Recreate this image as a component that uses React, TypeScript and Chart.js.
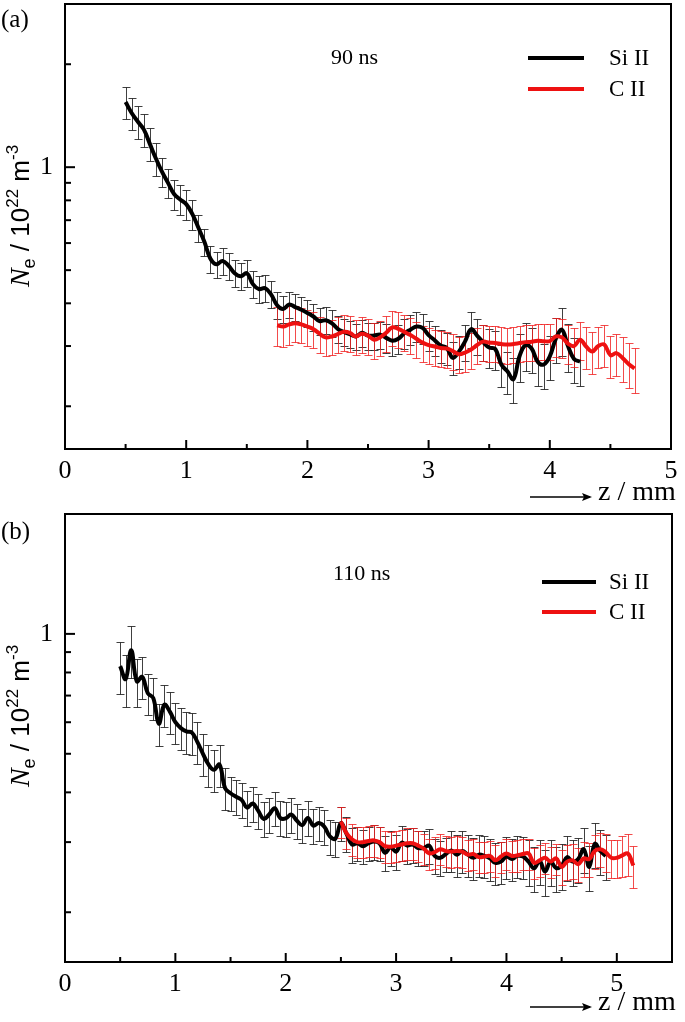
import React, { useEffect, useRef } from "react";
import { Chart, registerables } from "chart.js";
Chart.register(...registerables);

// ---------- data ----------
const STEP = 0.05; // mm between samples

// Panel (a), 90 ns
const SI_A_START = 0.5;
const SI_A = [
  1.55, 1.44, 1.36, 1.29, 1.17, 1.06, 0.97, 0.90, 0.835, 0.805,
  0.78, 0.73, 0.666, 0.605, 0.54, 0.52, 0.532, 0.515, 0.49, 0.48,
  0.49, 0.455, 0.44, 0.443, 0.425, 0.395, 0.385, 0.397, 0.39, 0.383,
  0.375, 0.366, 0.355, 0.357, 0.35, 0.337, 0.33, 0.325, 0.32, 0.328,
  0.322, 0.322, 0.324, 0.317, 0.311, 0.315, 0.327, 0.335, 0.342, 0.339,
  0.323, 0.312, 0.301, 0.296, 0.277, 0.289, 0.309, 0.336, 0.322, 0.308,
  0.297, 0.294, 0.265, 0.253, 0.24, 0.28, 0.302, 0.295, 0.27, 0.265,
  0.28, 0.315, 0.335, 0.3, 0.275, 0.27,
];
const SI_A_ERR = [
  11, 11, 11, 11, 11, 11, 10, 10, 10, 10,
  10, 10, 9, 9, 9, 9, 9, 9, 9, 9,
  9, 9, 9, 9, 9, 9, 9, 9, 9, 9,
  9, 9, 9, 9, 9, 9, 9, 9, 9, 9,
  9, 9, 9, 10, 10, 10, 10, 10, 10, 10,
  10, 10, 11, 11, 11, 11, 12, 12, 12, 12,
  13, 13, 14, 14, 15, 16, 16, 15, 15, 15,
  15, 15, 16, 16, 15, 15,
];
const CI_A_START = 1.75;
const CI_A = [
  0.345, 0.342, 0.347, 0.35, 0.347,
  0.342, 0.336, 0.326, 0.318, 0.32, 0.325, 0.33, 0.328, 0.32, 0.326,
  0.322, 0.313, 0.318, 0.328, 0.34, 0.337, 0.33, 0.323, 0.315, 0.307,
  0.302, 0.299, 0.296, 0.295, 0.29, 0.284, 0.287, 0.293, 0.302, 0.309,
  0.307, 0.306, 0.304, 0.303, 0.304, 0.306, 0.308, 0.309, 0.311, 0.31,
  0.31, 0.32, 0.318, 0.305, 0.3, 0.313, 0.299, 0.289, 0.3, 0.303,
  0.282, 0.286, 0.277, 0.266, 0.258,
];
const CI_A_ERR = [
  13, 13, 13, 12, 12,
  12, 12, 12, 12, 12, 12, 12, 12, 12, 12,
  12, 12, 12, 12, 12, 12, 12, 12, 12, 12,
  12, 12, 12, 12, 12, 12, 12, 12, 12, 12,
  12, 12, 12, 12, 12, 12, 12, 12, 12, 12,
  12, 13, 13, 13, 13, 13, 14, 14, 14, 14,
  14, 14, 15, 15, 15,
];

// Panel (b), 110 ns
const SI_B_START = 0.5;
const SI_B = [
  0.83, 0.77, 0.91, 0.76, 0.78, 0.71, 0.69, 0.595, 0.664, 0.638,
  0.60, 0.58, 0.569, 0.565, 0.535, 0.50, 0.47, 0.456, 0.47, 0.41,
  0.398, 0.39, 0.383, 0.366, 0.375, 0.36, 0.343, 0.352, 0.365, 0.345,
  0.344, 0.352, 0.34, 0.331, 0.345, 0.33, 0.335, 0.328, 0.31, 0.306,
  0.335, 0.315, 0.296, 0.298, 0.293, 0.298, 0.301, 0.298, 0.282, 0.291,
  0.284, 0.299, 0.294, 0.296, 0.29, 0.29, 0.294, 0.277, 0.274, 0.28,
  0.286, 0.279, 0.285, 0.279, 0.274, 0.279, 0.277, 0.273, 0.266, 0.268,
  0.276, 0.272, 0.277, 0.276, 0.268, 0.258, 0.269, 0.253, 0.268, 0.258,
  0.262, 0.275, 0.268, 0.272, 0.288, 0.26, 0.297, 0.285, 0.277,
];
const SI_B_ERR = [
  15, 15, 15, 14, 12, 12, 12, 12, 12, 12,
  12, 12, 12, 12, 12, 12, 12, 12, 12, 12,
  10, 10, 10, 10, 10, 10, 10, 10, 10, 10,
  10, 10, 10, 10, 10, 10, 10, 10, 10, 10,
  10, 10, 10, 10, 10, 10, 10, 10, 10, 10,
  10, 10, 10, 10, 10, 10, 10, 10, 10, 10,
  12, 12, 12, 12, 12, 12, 12, 12, 12, 12,
  12, 12, 12, 12, 13, 13, 13, 13, 13, 13,
  13, 13, 13, 13, 13, 13, 13, 13, 13,
];
const CI_B_START = 2.5;
const CI_B = [
  0.338, 0.316, 0.305, 0.3, 0.3, 0.302, 0.303, 0.3, 0.293, 0.292,
  0.294, 0.296, 0.298, 0.298, 0.294, 0.289, 0.281, 0.283, 0.288, 0.285,
  0.284, 0.285, 0.284, 0.279, 0.28, 0.275, 0.276, 0.277, 0.27, 0.276,
  0.281, 0.277, 0.278, 0.28, 0.281, 0.266, 0.27, 0.274, 0.268, 0.273,
  0.26, 0.268, 0.27, 0.264, 0.273, 0.272, 0.285, 0.288, 0.283, 0.274,
  0.274, 0.278, 0.281, 0.262,
];
const CI_B_ERR = [
  9, 9, 9, 9, 9, 9, 9, 9, 9, 9,
  9, 9, 9, 9, 9, 9, 9, 9, 9, 9,
  9, 9, 9, 9, 9, 9, 9, 9, 9, 9,
  9, 9, 9, 9, 9, 9, 9, 9, 9, 9,
  10, 10, 10, 10, 10, 10, 10, 10, 11, 11,
  11, 12, 12, 12,
];

const X_TICKS = [0, 0.5, 1, 1.5, 2, 2.5, 3, 3.5, 4, 4.5, 5, 5.5];
const Y_TICKS = [0.2, 0.3, 0.4, 0.5, 0.6, 0.7, 0.8, 0.9, 1, 2, 3];
const Y_MIN = 0.15;
const SERIES_NAMES = ["Si II", "C II"];
const PANEL_TAGS = ["(a)", "(b)"];
const PANEL_TIMES = ["90 ns", "110 ns"];
const X_MAX = [5, 5.5];
const Y_MAX = [3, 2];

// ---------- layout / style ----------
const W = 685;
const H = 511;
const SERIF = '"Liberation Serif", "Times New Roman", serif';
const SANS = '"Liberation Sans", Arial, sans-serif';
const BLACK = "#000000";
const RED = "#ee1111";

type Layout = {
  top: number; bottom: number; right: number;
  legX1: number; legX2: number; legY1: number; legY2: number; legTextX: number;
  timeX: number; timeY: number; titleCY: number; tagY: number; axisY: number;
};
const LAYOUTS: Layout[] = [
  { top: 4, bottom: 449, right: 671, legX1: 528, legX2: 584, legY1: 58, legY2: 89, legTextX: 609,
    timeX: 331, timeY: 58, titleCY: 216, tagY: 20, axisY: 497 },
  { top: 3, bottom: 451, right: 672, legX1: 542, legX2: 596, legY1: 71, legY2: 101, legTextX: 609,
    timeX: 333, timeY: 63, titleCY: 205, tagY: 21, axisY: 496 },
];

function points(start: number, vals: number[]) {
  return vals.map((v, i) => ({ x: +(start + i * STEP).toFixed(3), y: v }));
}

function drawYTitle(ctx: CanvasRenderingContext2D, x: number, cy: number) {
  const parts = [
    { t: "N", font: `italic 28px ${SERIF}`, dy: 0 },
    { t: "e", font: `18px ${SANS}`, dy: 6 },
    { t: " / 10", font: `26px ${SANS}`, dy: 0 },
    { t: "22", font: `17px ${SANS}`, dy: -11 },
    { t: " m", font: `26px ${SANS}`, dy: 0 },
    { t: "-3", font: `17px ${SANS}`, dy: -11 },
  ];
  let total = 0;
  const widths = parts.map((p) => {
    ctx.font = p.font;
    const w = ctx.measureText(p.t).width;
    total += w;
    return w;
  });
  ctx.save();
  ctx.translate(x, cy);
  ctx.rotate(-Math.PI / 2);
  ctx.fillStyle = "#000";
  ctx.textBaseline = "alphabetic";
  ctx.textAlign = "left";
  let cx = -total / 2;
  parts.forEach((p, i) => {
    ctx.font = p.font;
    ctx.fillText(p.t, cx, p.dy);
    cx += widths[i];
  });
  ctx.restore();
}

function makePlugin(panel: number, errs: number[][]) {
  const L = LAYOUTS[panel];
  return {
    id: "physicsDecor" + panel,
    beforeDatasetsDraw(chart: any) {
      const { ctx, chartArea } = chart;
      const xs = chart.scales.x;
      const ys = chart.scales.y;
      ctx.save();
      ctx.beginPath();
      ctx.rect(chartArea.left, chartArea.top, chartArea.right - chartArea.left, chartArea.bottom - chartArea.top);
      ctx.clip();
      [1, 0].forEach((di) => {
        const ds = chart.data.datasets[di];
        ctx.strokeStyle = di === 1 ? "rgba(30,30,30,0.85)" : "rgba(240,30,30,0.8)";
        ctx.lineWidth = 1;
        ds.data.forEach((p: any, i: number) => {
          const e = errs[di][i] / 100;
          const px = Math.round(xs.getPixelForValue(p.x)) + 0.5;
          const yt = Math.round(ys.getPixelForValue(p.y * (1 + e))) + 0.5;
          const yb = Math.round(ys.getPixelForValue(p.y * (1 - e))) + 0.5;
          ctx.beginPath();
          ctx.moveTo(px, yt);
          ctx.lineTo(px, yb);
          ctx.moveTo(px - 4, yt);
          ctx.lineTo(px + 4, yt);
          ctx.moveTo(px - 4, yb);
          ctx.lineTo(px + 4, yb);
          ctx.stroke();
        });
      });
      ctx.restore();
    },
    afterDraw(chart: any) {
      const { ctx, chartArea } = chart;
      const xs = chart.scales.x;
      const ys = chart.scales.y;
      ctx.save();
      ctx.strokeStyle = "#000";
      ctx.lineWidth = 2;
      ctx.strokeRect(chartArea.left, chartArea.top, chartArea.right - chartArea.left, chartArea.bottom - chartArea.top);
      xs.ticks.forEach((t: any) => {
        const px = xs.getPixelForValue(t.value);
        if (px <= chartArea.left + 1 || px >= chartArea.right - 1) return;
        const len = Number.isInteger(t.value) ? 9 : 5;
        ctx.beginPath();
        ctx.moveTo(px, chartArea.bottom);
        ctx.lineTo(px, chartArea.bottom - len);
        ctx.stroke();
      });
      ys.ticks.forEach((t: any) => {
        const py = ys.getPixelForValue(t.value);
        if (py <= chartArea.top + 1 || py >= chartArea.bottom - 1) return;
        const len = t.value === 1 ? 10 : 6;
        ctx.beginPath();
        ctx.moveTo(chartArea.left, py);
        ctx.lineTo(chartArea.left + len, py);
        ctx.stroke();
      });
      const legend = [
        { y: L.legY1, color: BLACK, text: SERIES_NAMES[0] },
        { y: L.legY2, color: RED, text: SERIES_NAMES[1] },
      ];
      legend.forEach((l) => {
        ctx.strokeStyle = l.color;
        ctx.lineWidth = 4;
        ctx.beginPath();
        ctx.moveTo(L.legX1, l.y);
        ctx.lineTo(L.legX2, l.y);
        ctx.stroke();
        ctx.fillStyle = "#000";
        ctx.font = `23px ${SERIF}`;
        ctx.textBaseline = "middle";
        ctx.textAlign = "left";
        ctx.fillText(l.text, L.legTextX, l.y + 1);
      });
      ctx.font = `22px ${SERIF}`;
      ctx.fillStyle = "#000";
      ctx.textBaseline = "middle";
      ctx.fillText(PANEL_TIMES[panel], L.timeX, L.timeY);
      ctx.font = `25px ${SERIF}`;
      ctx.fillText(PANEL_TAGS[panel], 1, L.tagY);
      drawYTitle(ctx, 29, L.titleCY);
      ctx.strokeStyle = "#000";
      ctx.lineWidth = 1.5;
      ctx.beginPath();
      ctx.moveTo(530, L.axisY);
      ctx.lineTo(590, L.axisY);
      ctx.stroke();
      ctx.beginPath();
      ctx.moveTo(592, L.axisY);
      ctx.lineTo(582, L.axisY - 4);
      ctx.lineTo(584, L.axisY);
      ctx.lineTo(582, L.axisY + 4);
      ctx.closePath();
      ctx.fillStyle = "#000";
      ctx.fill();
      ctx.font = `28px ${SERIF}`;
      ctx.textBaseline = "middle";
      ctx.fillText("z / mm", 598, L.axisY - 4);
      ctx.restore();
    },
  };
}

function Panel({ index }: { index: number }) {
  const ref = useRef<HTMLCanvasElement>(null);
  useEffect(() => {
    const L = LAYOUTS[index];
    const si = index === 0 ? points(SI_A_START, SI_A) : points(SI_B_START, SI_B);
    const ci = index === 0 ? points(CI_A_START, CI_A) : points(CI_B_START, CI_B);
    const errs = index === 0 ? [CI_A_ERR, SI_A_ERR] : [CI_B_ERR, SI_B_ERR];
    const xMax = X_MAX[index];
    const yMax = Y_MAX[index];
    const chart = new Chart(ref.current as HTMLCanvasElement, {
      type: "line",
      data: {
        datasets: [
          { label: SERIES_NAMES[1], data: ci, borderColor: RED, borderWidth: 4, pointRadius: 0, tension: 0.4, fill: false },
          { label: SERIES_NAMES[0], data: si, borderColor: BLACK, borderWidth: 4, pointRadius: 0, tension: 0.4, fill: false },
        ],
      },
      options: {
        animation: false,
        responsive: false,
        devicePixelRatio: 1,
        layout: { padding: { top: L.top, right: W - L.right, left: 0, bottom: 0 } },
        plugins: { legend: { display: false }, tooltip: { enabled: false } },
        scales: {
          x: {
            type: "linear",
            min: 0,
            max: xMax,
            grid: { display: false, drawTicks: false },
            border: { display: false },
            afterBuildTicks: (s: any) => {
              s.ticks = X_TICKS.filter((v) => v <= xMax).map((v) => ({ value: v }));
            },
            afterFit: (s: any) => {
              s.height = H - L.bottom;
              s.paddingLeft = 0;
              s.paddingRight = 0;
            },
            ticks: {
              autoSkip: false,
              maxRotation: 0,
              padding: 7,
              color: "#000",
              font: { family: SERIF, size: 26 },
              callback: (v: any) => (Number.isInteger(v) ? String(v) : ""),
            },
          },
          y: {
            type: "logarithmic",
            min: Y_MIN,
            max: yMax,
            grid: { display: false, drawTicks: false },
            border: { display: false },
            afterBuildTicks: (s: any) => {
              s.ticks = Y_TICKS.filter((v) => v <= yMax).map((v) => ({ value: v, major: v === 1 }));
            },
            afterFit: (s: any) => {
              s.width = 65;
              s.paddingTop = 0;
              s.paddingBottom = 0;
            },
            ticks: {
              autoSkip: false,
              padding: 12,
              color: "#000",
              font: { family: SERIF, size: 26 },
              callback: (v: any) => (v === 1 ? "1" : ""),
            },
          },
        },
      },
      plugins: [makePlugin(index, errs)],
    } as any);
    return () => chart.destroy();
  }, [index]);
  return (
    <canvas
      ref={ref}
      width={W}
      height={H}
      style={{ position: "absolute", left: 0, top: index * H, width: W, height: H, display: "block" }}
    />
  );
}

export default function App() {
  return (
    <div style={{ position: "absolute", left: 0, top: 0, width: W, height: 2 * H, background: "#fff" }}>
      <Panel index={0} />
      <Panel index={1} />
    </div>
  );
}
